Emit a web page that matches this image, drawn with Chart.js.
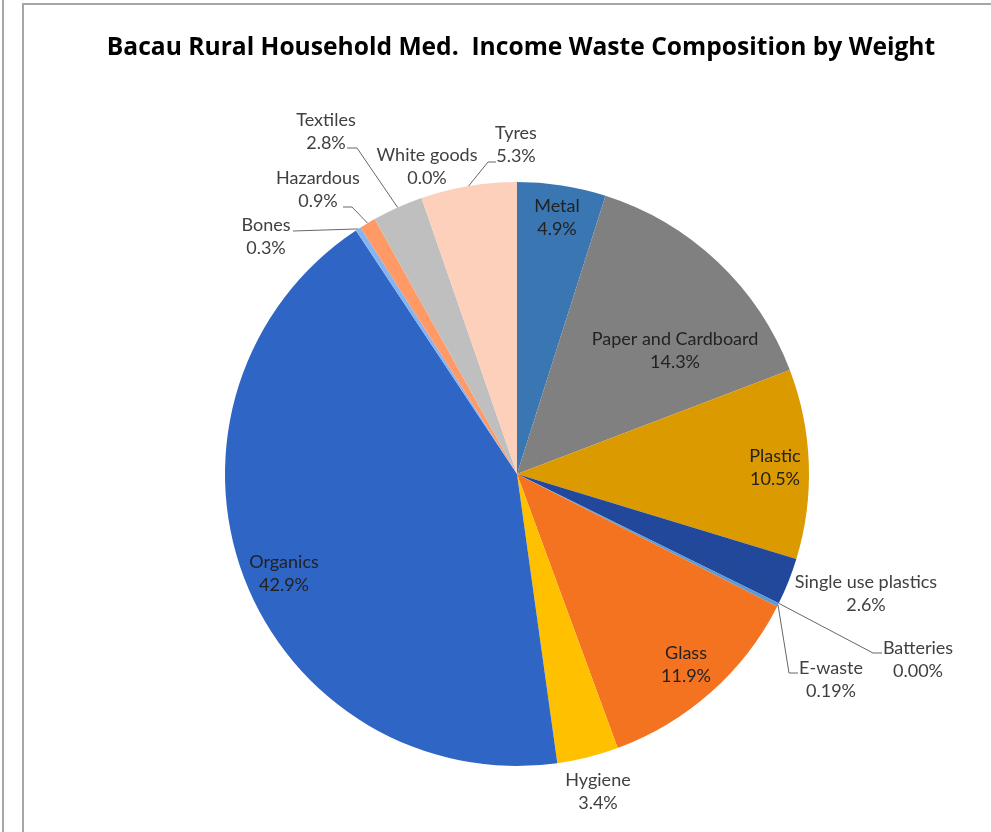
<!DOCTYPE html>
<html>
<head>
<meta charset="utf-8">
<script src="https://cdn.jsdelivr.net/npm/chart.js@4"></script>
<style>
    body { margin: 0; background: #fff; }
    #wrap { position: relative; width: 991px; height: 832px; overflow: hidden; }
    #chart { position: absolute; left: 0; top: 0; }
    .frame-outer { position: absolute; left: 2px; top: 0; width: 0; height: 832px; border-left: 2px solid #a6a6a6; }
    .frame-inner { position: absolute; left: 22px; top: 3px; width: 1000px; height: 900px; border-left: 2px solid #a6a6a6; border-top: 2px solid #a6a6a6; }
</style>
</head>
<body>
<div id="wrap">
    <canvas id="chart" width="991" height="832"></canvas>
    <div class="frame-outer"></div>
    <div class="frame-inner"></div>
</div>
<script>
// data
const chartTitle = "Bacau Rural Household Med.  Income Waste Composition by Weight";
const categories = [
    "Metal", "Paper and Cardboard", "Plastic", "Single use plastics", "Batteries",
    "E-waste", "Glass", "Hygiene", "Organics", "Bones", "Hazardous", "Textiles",
    "White goods", "Tyres"
];
const shares = [4.9, 14.3, 10.5, 2.6, 0.00, 0.19, 11.9, 3.4, 42.9, 0.3, 0.9, 2.8, 0.0, 5.3];
const decimals = [1, 1, 1, 1, 2, 2, 1, 1, 1, 1, 1, 1, 1, 1];

const sliceColors = [
    "#3a76b2", "#808080", "#da9a00", "#22489b", "#4472c4",
    "#5b9bd5", "#f47320", "#ffc000", "#2f65c5", "#86b4f0",
    "#ff9966", "#bfbfbf", "#a5a5a5", "#fdd0bc"
];

// label layout: text block centre relative to pie centre (px at r = 292)
const labelOffsets = [
    [40, -256], [158, -123], [258, -6], [349, 120], [401, 186],
    [314, 206], [169, 191], [81, 318], [-233, 100], [-251, -237],
    [-199, -284], [-191, -342], [-90, -307], [-1, -329]
];
const insideLabel = [true, true, true, false, false, false, true, false, true, false, false, false, false, false];
// leader line points after the arc edge (relative to centre)
const leaders = {
    4: [[356, 179], [365, 179]],
    5: [[272, 199], [281, 199]],
    9: [[-224, -243]],
    10: [[-165, -267], [-174, -267]],
    11: [[-160, -326], [-170, -326]],
    13: [[-29, -312], [-21, -312]]
};

const FONT = "Lato, 'Open Sans', sans-serif";

// title drawn by hand so chart.js doesn't squeeze it into the chart area width
const titlePlugin = {
    id: "bigTitle",
    afterDraw(chart) {
        const ctx = chart.ctx;
        ctx.save();
        ctx.font = "bold 24px 'Open Sans', sans-serif";
        const w = ctx.measureText(chartTitle).width;
        const size = 24 * 830 / w;
        ctx.font = "bold " + size.toFixed(1) + "px 'Open Sans', sans-serif";
        ctx.fillStyle = "#000";
        ctx.textAlign = "center";
        ctx.textBaseline = "middle";
        ctx.fillText(chartTitle, 521, 47.5);
        ctx.restore();
    }
};

const labelPlugin = {
    id: "sliceLabels",
    afterDatasetsDraw(chart) {
        const ctx = chart.ctx;
        const meta = chart.getDatasetMeta(0);
        ctx.save();
        meta.data.forEach((arc, i) => {
            const p = arc.getProps(["x", "y", "startAngle", "endAngle", "outerRadius"]);
            const s = p.outerRadius / 292;
            const lead = leaders[i];
            if (lead) {
                const mid = (p.startAngle + p.endAngle) / 2;
                ctx.beginPath();
                ctx.moveTo(p.x + Math.cos(mid) * p.outerRadius, p.y + Math.sin(mid) * p.outerRadius);
                lead.forEach(pt => ctx.lineTo(p.x + pt[0] * s, p.y + pt[1] * s));
                ctx.strokeStyle = "#666";
                ctx.lineWidth = 1;
                ctx.stroke();
            }
            const lx = p.x + labelOffsets[i][0] * s;
            const ly = p.y + labelOffsets[i][1] * s;
            ctx.font = "18px " + FONT;
            ctx.textAlign = "center";
            ctx.textBaseline = "middle";
            ctx.fillStyle = insideLabel[i] ? "#222" : "#404040";
            ctx.fillText(categories[i], lx, ly - 11.5);
            ctx.fillText(shares[i].toFixed(decimals[i]) + "%", lx, ly + 11.5);
        });
        ctx.restore();
    }
};

new Chart(document.getElementById("chart"), {
    type: "pie",
    data: {
        labels: categories,
        datasets: [{
            data: shares,
            backgroundColor: sliceColors,
            borderWidth: 0
        }]
    },
    options: {
        responsive: false,
        animation: false,
        layout: { padding: { left: 225, right: 182, top: 182, bottom: 66 } },
        plugins: {
            legend: { display: false },
            tooltip: { enabled: false },
            title: { display: false }
        }
    },
    plugins: [labelPlugin, titlePlugin]
});
</script>
</body>
</html>
